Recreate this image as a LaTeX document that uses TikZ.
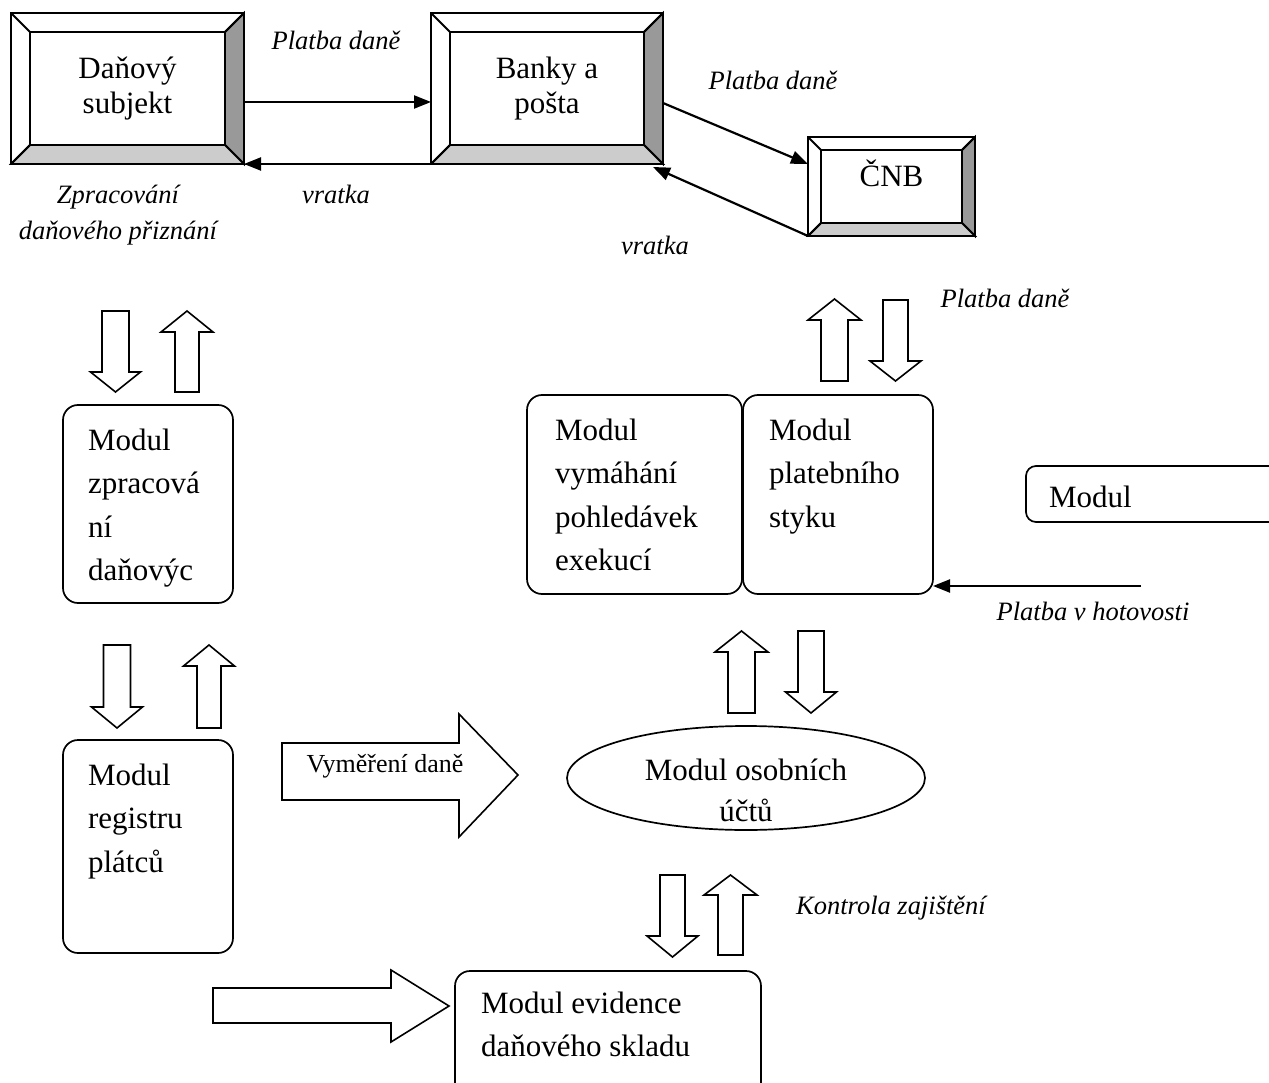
\documentclass[tikz,border=0pt]{standalone}
\usepackage{fontspec}
\setmainfont{Liberation Serif}
\usetikzlibrary{arrows.meta,shapes.geometric}
\definecolor{bevdark}{gray}{0.6}
\definecolor{bevlight}{gray}{0.8}
\newcommand{\boxfont}{\fontsize{31}{43.5}\selectfont}
\newcommand{\bevfont}{\fontsize{31}{35}\selectfont}
\newcommand{\labfont}{\fontsize{26.5}{36}\selectfont\itshape}
\newcommand{\arrfont}{\fontsize{26}{30}\selectfont}
\newcommand{\mtext}[5]{\parbox[c][#2][t]{#1}{\raggedright\setlength{\leftskip}{#3}\vspace*{#4}\strut #5}}
\newcommand{\blockv}[6]{\draw[blk] ({#1-#5},#2) -- ({#1-#5},#3) -- ({#1-#6},#3) -- (#1,#4) -- ({#1+#6},#3) -- ({#1+#5},#3) -- ({#1+#5},#2) -- cycle;}
\newcommand{\bevel}[2]{%
  \coordinate (#1nw) at ([shift={(#2,#2)}]#1.north west);
  \coordinate (#1ne) at ([shift={(-#2,#2)}]#1.north east);
  \coordinate (#1se) at ([shift={(-#2,-#2)}]#1.south east);
  \coordinate (#1sw) at ([shift={(#2,-#2)}]#1.south west);
  \filldraw[bevline, fill=bevdark] (#1.north east) -- (#1.south east) -- (#1se) -- (#1ne) -- cycle;
  \filldraw[bevline, fill=bevlight] (#1.south west) -- (#1.south east) -- (#1se) -- (#1sw) -- cycle;
  \draw[bevline] (#1.north west) rectangle (#1.south east);
  \draw[bevline] (#1nw) rectangle (#1se);
  \draw[bevline] (#1.north west) -- (#1nw) (#1.north east) -- (#1ne) (#1.south west) -- (#1sw);
}
\tikzset{
  bevnode/.style={inner sep=0pt, outer sep=0pt, align=center, font=\bevfont},
  bevline/.style={line width=1.8pt, line join=miter},
  rbox/.style={draw, line width=1.7pt, rounded corners=15pt, inner sep=0pt, outer sep=0pt, font=\boxfont},
  blk/.style={draw, line width=1.6pt, fill=white, line join=miter},
  conn/.style={line width=2.2pt, -{Triangle[length=17pt,width=13pt]}},
  lab/.style={font=\labfont, inner sep=0pt},
}
\begin{document}
\begin{tikzpicture}[x=1pt,y=-1pt]
\useasboundingbox (0,0) rectangle (1269,1083);
\clip (0,0) rectangle (1269,1083);
\fill[white] (0,0) rectangle (1269,1083);

% bevel boxes
\node[bevnode, minimum width=233pt, minimum height=151pt, anchor=north west] (D) at (11,13) {Daňový\\subjekt};
\bevel{D}{19}
\node[bevnode, minimum width=232pt, minimum height=151pt, anchor=north west] (B) at (431,13) {Banky a\\pošta};
\bevel{B}{19}
\node[bevnode, minimum width=167pt, minimum height=99pt, anchor=north west, text depth=26pt] (C) at (808,137) {ČNB};
\bevel{C}{13}

% connectors at the top
\draw[conn] ([yshift=-13.5pt]D.east) -- ([yshift=-13.5pt]B.west);
\draw[conn] (B.south west) -- (D.south east);
\draw[conn] ([yshift=-14.5pt]B.east) -- ([yshift=22.5pt]C.west);
\draw[conn] (C.south west) -- ([xshift=-10pt,yshift=-3pt]B.south east);

% labels
\node[lab, anchor=base] (l1) at (336,50) {Platba daně};
\node[lab, anchor=base] (l2) at (773,90) {Platba daně};
\node[lab, align=center] (l3) at (118,215) {Zpracování\\daňového přiznání};
\node[lab, anchor=base] (l4) at (336,204) {vratka};
\node[lab, anchor=base] (l5) at (655,255) {vratka};
\node[lab, anchor=base] (l6) at (1005,308) {Platba daně};
\node[lab, anchor=base] (l7) at (1093,620) {Platba v hotovosti};
\node[lab, anchor=base] (l8) at (891,914) {Kontrola zajištění};

% rounded module boxes
\node[rbox, anchor=north west] (L1) at (63,405) {\mtext{170pt}{198pt}{25pt}{14.55pt}{Modul\\zpracová\\ní\\daňovýc}};
\node[rbox, anchor=north west] (L2) at (63,740) {\mtext{170pt}{213pt}{25pt}{14.55pt}{Modul\\registru\\plátců}};
\node[rbox, anchor=north west] (M1) at (527,395) {\mtext{215pt}{199pt}{28pt}{14.55pt}{Modul\\vymáhání\\pohledávek\\exekucí}};
\node[rbox, anchor=north west] (M2) at (743,395) {\mtext{190pt}{199pt}{26pt}{14.55pt}{Modul\\platebního\\styku}};
\node[rbox, rounded corners=10pt, anchor=north west] (R) at (1026,466) {\mtext{274pt}{56pt}{23pt}{10.55pt}{Modul}};
\node[rbox, anchor=north west] (V) at (455,971) {\mtext{306pt}{140pt}{26pt}{11.55pt}{Modul evidence\\daňového skladu}};

% ellipse
\node[draw, ellipse, line width=1.7pt, minimum width=358pt, minimum height=104pt, inner sep=0pt] (E) at (746,778) {};
\node[font=\fontsize{31}{41}\selectfont, align=center, inner sep=0pt, anchor=north] (Et) at (746,759) {Modul osobních\\účtů};

% cash payment arrow
\coordinate (cash) at (1141,586);
\draw[conn] (cash) -- ([yshift=8pt]M2.south east);

% vertical block arrows
\blockv{115.5}{311}{372}{392}{13.5}{25}
\blockv{187}{392}{332}{311}{12}{26}
\blockv{117}{645}{707}{728}{13.5}{25.5}
\blockv{209}{728}{666}{645}{12}{25.5}
\blockv{834.5}{381}{320}{299}{13.5}{26.5}
\blockv{895.5}{300}{361}{381}{12.5}{25.5}
\blockv{741.5}{713}{652}{631}{13.5}{26.5}
\blockv{811}{631}{692}{713}{13}{25.5}
\blockv{672.5}{875}{936}{957}{12.5}{25.5}
\blockv{730.5}{955}{895}{875}{12.5}{26.5}

% horizontal block arrows
\draw[blk] (282,743) -- (459,743) -- (459,714) -- (518,775) -- (459,837) -- (459,800) -- (282,800) -- cycle;
\node[font=\arrfont, inner sep=0pt, anchor=base] (vt) at (385,772) {Vyměření daně};
\draw[blk] (213,988) -- (391,988) -- (391,970) -- (449,1006) -- (391,1042) -- (391,1023) -- (213,1023) -- cycle;
\end{tikzpicture}
\end{document}
